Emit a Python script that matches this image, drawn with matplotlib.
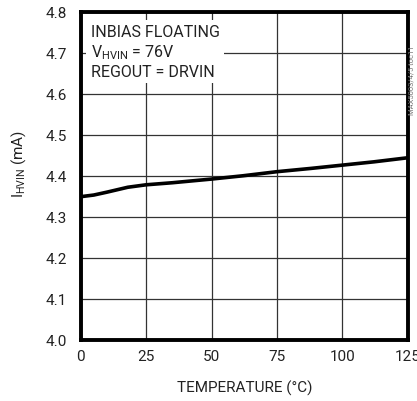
import matplotlib
matplotlib.use("Agg")
from matplotlib import pyplot as plt

# data
temperature = [0, 5, 10, 18, 25, 35, 50, 62, 75, 88, 100, 112, 125]
i_hvin = [4.349, 4.353, 4.360, 4.372, 4.378, 4.383, 4.392, 4.400, 4.410, 4.418, 4.426, 4.434, 4.444]

x_ticks = [0, 25, 50, 75, 100, 125]
y_ticks = [4.0, 4.1, 4.2, 4.3, 4.4, 4.5, 4.6, 4.7, 4.8]
y_tick_labels = ["4.0", "4.1", "4.2", "4.3", "4.4", "4.5", "4.6", "4.7", "4.8"]

note_lines = ["INBIAS FLOATING", "V$_{\\mathregular{HVIN}}$ = 76V", "REGOUT = DRVIN"]

plt.rcParams['font.family'] = ['Roboto', 'DejaVu Sans']
plt.rcParams['mathtext.fontset'] = 'custom'
plt.rcParams['mathtext.rm'] = 'Roboto'
plt.rcParams['mathtext.it'] = 'Roboto'

fig = plt.figure(figsize=(4.17, 4.02), dpi=100)
ax = fig.add_axes([0.1935, 0.1525, 0.7845, 0.8155])

ax.plot(temperature, i_hvin, color='black', lw=2.6, solid_capstyle='butt', zorder=3)

ax.set_xlim(0, 125)
ax.set_ylim(4.0, 4.8)
ax.set_xticks(x_ticks)
ax.set_yticks(y_ticks)
ax.set_yticklabels(y_tick_labels)
ax.grid(True, color='#333333', lw=0.9)
ax.tick_params(length=0, labelsize=11, colors='#222222', pad=10)
ax.tick_params(axis='x', pad=7)

for s in ax.spines.values():
    s.set_linewidth(2.8)
    s.set_zorder(4)

ax.set_xlabel("TEMPERATURE (°C)", fontsize=11, color='#222222', labelpad=12)
ax.set_ylabel("I$_{\\mathregular{HVIN}}$ (mA)", fontsize=11, color='#222222', labelpad=9)
ax.yaxis.set_label_coords(-0.16, 0.54)

ax.text(0.03, 0.963, "\n".join(note_lines), transform=ax.transAxes, fontsize=11.5, color='#222222',
        va='top', ha='left', linespacing=1.25, zorder=5,
        bbox=dict(facecolor='white', edgecolor='none', pad=3))

fig.text(0.987, 0.80, "MAX5003/4/5 toc11", rotation=90, fontsize=5.5, color='#777777',
         ha='center', va='center')

fig.savefig("out.png", dpi=100)
